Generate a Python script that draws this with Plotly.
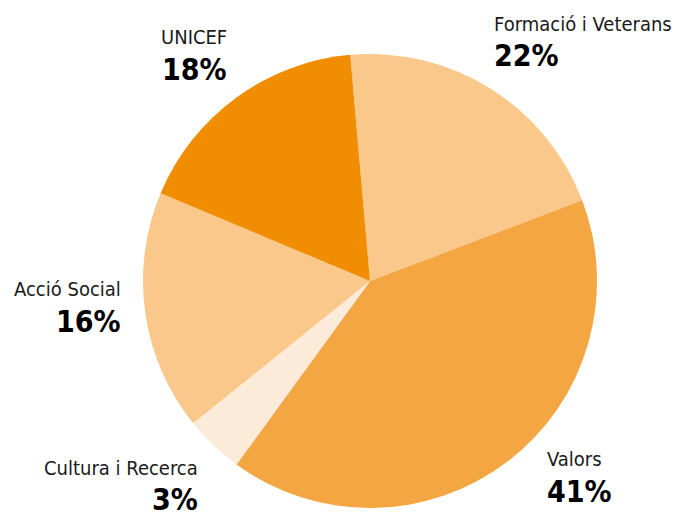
import plotly.graph_objects as go

# slices, clockwise from the top
names = ['Formació i Veterans', 'Valors', 'Cultura i Recerca', 'Acció Social', 'UNICEF']
values = [20.6, 40.8, 4.2, 17.1, 17.3]
pct_labels = ['22%', '41%', '3%', '16%', '18%']
colors = ['#F9C88A', '#F4A642', '#FDEBDA', '#F9C88A', '#F08D00']

W, H = 683, 516

fig = go.Figure()
fig.add_trace(go.Pie(labels=names, values=values, sort=False, direction='clockwise',
                     rotation=-5, marker=dict(colors=colors, line=dict(width=0)),
                     textinfo='none', hoverinfo='label+percent', showlegend=False,
                     domain=dict(x=[143 / W, 597 / W], y=[8 / H, 462 / H])))

# label positions in px: (x, name_y, pct_y, anchor)
label_pos = [(492, 24, 56, 'left'), (545, 459, 491, 'left'), (200, 468, 499, 'right'),
             (123, 289, 321, 'right'), (194, 37, 69, 'center')]
for name, pct, (lx, ny, py, anc) in zip(names, pct_labels, label_pos):
  fig.add_annotation(x=lx / W, y=1 - ny / H, xref='paper', yref='paper', text=name,
                     showarrow=False, xanchor=anc, yanchor='middle',
                     font=dict(family='DejaVu Sans Condensed', size=20, color='#1a1a1a'))
  fig.add_annotation(x=lx / W, y=1 - py / H, xref='paper', yref='paper', text='<b>' + pct + '</b>',
                     showarrow=False, xanchor=anc, yanchor='middle',
                     font=dict(family='DejaVu Sans Condensed', size=30, color='#000000'))

fig.update_layout(width=W, height=H, margin=dict(l=0, r=0, t=0, b=0),
                  paper_bgcolor='white', plot_bgcolor='white')
fig.write_html("out.html", config={'displayModeBar': False},
               post_script="document.body.style.margin='0';")
